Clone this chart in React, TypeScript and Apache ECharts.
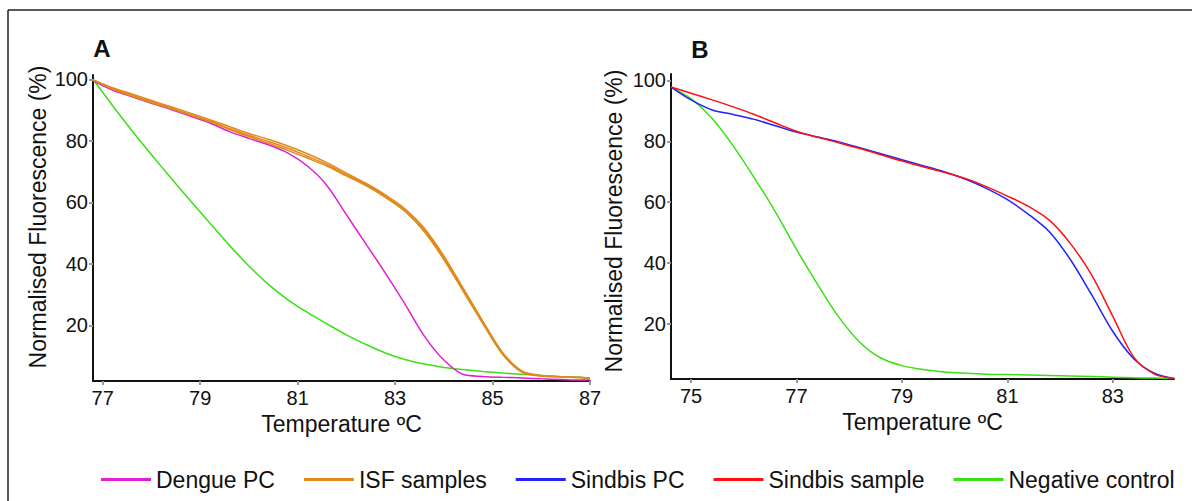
import React, { useEffect, useRef } from "react";
import * as echarts from "echarts";

// Panel A temperatures (°C)
const tempA = [76.8, 77.2, 77.6, 78.0, 78.4, 78.8, 79.2, 79.6, 80.0, 80.4, 80.8, 81.2, 81.6, 82.0, 82.4, 82.8, 83.2, 83.6, 84.0, 84.4, 84.8, 85.2, 85.6, 86.0, 86.4, 86.8, 87.0];
const dengueA = [99.5, 96.5, 94.3, 92.2, 90.2, 88.0, 85.8, 83.0, 80.8, 78.7, 76.0, 71.8, 65.5, 56.0, 46.5, 37.0, 27.0, 16.5, 8.7, 4.0, 3.4, 3.1, 2.9, 2.6, 2.4, 2.2, 2.2];
const isfA1 = [99.8, 97.0, 94.8, 92.7, 90.7, 88.6, 86.5, 84.0, 81.8, 79.8, 77.6, 75.0, 72.3, 69.0, 65.8, 62.0, 57.5, 51.0, 42.0, 31.5, 21.0, 11.0, 5.0, 3.6, 3.3, 3.0, 2.9];
const isfA2 = [99.8, 97.3, 95.2, 93.1, 91.1, 89.0, 86.9, 84.6, 82.4, 80.5, 78.3, 75.8, 72.9, 69.5, 66.2, 62.4, 57.9, 51.6, 42.6, 32.0, 21.4, 11.3, 5.2, 3.7, 3.3, 3.1, 2.9];
const isfA3 = [99.8, 96.8, 94.5, 92.4, 90.4, 88.3, 86.2, 83.7, 81.4, 79.2, 76.9, 74.4, 71.8, 68.6, 65.4, 61.6, 57.1, 50.4, 41.4, 31.0, 20.6, 10.7, 4.8, 3.5, 3.2, 3.0, 2.8];
const negA = [100, 91.5, 83.3, 75.5, 67.9, 60.5, 53.2, 46.0, 39.3, 33.3, 28.3, 24.2, 20.5, 16.9, 13.8, 11.0, 8.9, 7.4, 6.3, 5.6, 5.0, 4.5, 4.1, 3.7, 3.3, 3.0, 2.8];

// Panel B temperatures (°C)
const tempB = [74.62, 75.0, 75.4, 75.8, 76.2, 76.6, 77.0, 77.4, 77.8, 78.2, 78.6, 79.0, 79.4, 79.8, 80.2, 80.6, 81.0, 81.4, 81.8, 82.2, 82.6, 83.0, 83.4, 83.8, 84.16];
const sindbisPcB = [97.8, 93.6, 90.3, 88.8, 87.2, 85.1, 83.0, 81.4, 79.8, 77.9, 75.9, 73.9, 72.0, 70.0, 67.6, 64.5, 60.8, 56.0, 50.2, 41.0, 29.5, 17.5, 8.5, 3.7, 2.1];
const sindbisSampleB = [97.8, 95.8, 93.6, 91.3, 88.8, 86.0, 83.3, 81.3, 79.5, 77.6, 75.6, 73.5, 71.6, 69.8, 67.8, 65.1, 62.0, 58.6, 54.0, 46.3, 36.0, 22.5, 9.0, 3.4, 2.1];
const negB = [97.8, 94.0, 87.5, 78.5, 68.0, 56.8, 44.5, 33.0, 22.3, 14.0, 8.8, 6.3, 5.0, 4.2, 3.8, 3.5, 3.35, 3.2, 3.05, 2.9, 2.7, 2.5, 2.3, 2.2, 2.1];

const ticksA = [77, 79, 81, 83, 85, 87];
const ticksB = [75, 77, 79, 81, 83];
const ticksY = [20, 40, 60, 80, 100];

const legendNames = ["Dengue PC", "ISF samples", "Sindbis PC", "Sindbis sample", "Negative control"];
const COLORS = {
  dengue: "#e01ed6",
  isf: "#e08a1c",
  sindbisPc: "#2222ff",
  sindbisSample: "#ff1010",
  neg: "#3ae014",
};

const pairs = (xs: number[], ys: number[]) => xs.map((x, i) => [x, ys[i]]);

export default function App() {
  const ref = useRef<HTMLDivElement>(null);
  useEffect(() => {
    const chart = echarts.init(ref.current!, null, { renderer: "svg" });
    const font = "'Liberation Sans', Arial, Helvetica, sans-serif";

    const xAxisBase = (gridIndex: number, min: number, max: number, ticks: number[]) => ({
      type: "value",
      gridIndex,
      min,
      max,
      name: "Temperature ºC",
      nameLocation: "middle",
      nameGap: 28,
      nameTextStyle: { fontFamily: font, fontSize: 23, color: "#111" },
      axisLine: { show: true, onZero: false, lineStyle: { color: "#111", width: 2 } },
      axisTick: { show: true, customValues: ticks, length: 4, lineStyle: { color: "#999", width: 2 } },
      axisLabel: { customValues: ticks, fontFamily: font, fontSize: 20, color: "#111", margin: 7 },
      splitLine: { show: false },
    });
    const yAxisBase = (gridIndex: number, min: number, max: number) => ({
      type: "value",
      gridIndex,
      min,
      max,
      axisLine: { show: true, lineStyle: { color: "#111", width: 2 } },
      axisTick: { show: true, customValues: ticksY, length: 4, lineStyle: { color: "#999", width: 2 } },
      axisLabel: { customValues: ticksY, fontFamily: font, fontSize: 20, color: "#111", margin: 5 },
      splitLine: { show: false },
    });

    const line = (name: string, color: string, xi: number, data: number[][], width = 1.5) => ({
      type: "line",
      name,
      xAxisIndex: xi,
      yAxisIndex: xi,
      data,
      smooth: 0.3,
      symbol: "none",
      lineStyle: { color, width },
      itemStyle: { color },
      z: 2,
    });

    chart.setOption({
      animation: false,
      backgroundColor: "#ffffff",
      textStyle: { fontFamily: font },
      grid: [
        { left: 93, right: 602, top: 75, bottom: 120 },
        { left: 671, right: 18, top: 74, bottom: 122 },
      ],
      xAxis: [xAxisBase(0, 76.8, 87, ticksA), xAxisBase(1, 74.62, 84.16, ticksB)],
      yAxis: [yAxisBase(0, 1.9, 101.4), yAxisBase(1, 1.9, 102.1)],
      legend: {
        data: legendNames,
        left: 96,
        top: 463,
        width: 1096,
        icon: "rect",
        itemWidth: 50,
        itemHeight: 3,
        itemGap: 29,
        itemTextGap: 2,
        textStyle: { fontFamily: font, fontSize: 23, color: "#111" },
      },
      series: [
        line("Negative control", COLORS.neg, 0, pairs(tempA, negA)),
        line("Dengue PC", COLORS.dengue, 0, pairs(tempA, dengueA)),
        line("ISF samples", COLORS.isf, 0, pairs(tempA, isfA1)),
        line("ISF samples", COLORS.isf, 0, pairs(tempA, isfA2)),
        line("ISF samples", COLORS.isf, 0, pairs(tempA, isfA3)),
        line("Negative control", COLORS.neg, 1, pairs(tempB, negB)),
        line("Sindbis PC", COLORS.sindbisPc, 1, pairs(tempB, sindbisPcB)),
        line("Sindbis sample", COLORS.sindbisSample, 1, pairs(tempB, sindbisSampleB)),
      ],
      graphic: [
        { type: "line", shape: { x1: 8, y1: 10, x2: 1192, y2: 10 }, style: { stroke: "#222", lineWidth: 1.5 } },
        { type: "line", shape: { x1: 8, y1: 10, x2: 8, y2: 501 }, style: { stroke: "#222", lineWidth: 1.5 } },
        { type: "text", x: 102, y: 48, style: { text: "A", fontFamily: font, fontSize: 24, fontWeight: "bold", fill: "#111", align: "center", verticalAlign: "middle" } },
        { type: "text", x: 700, y: 49, style: { text: "B", fontFamily: font, fontSize: 24, fontWeight: "bold", fill: "#111", align: "center", verticalAlign: "middle" } },
        { type: "text", x: 38, y: 217, rotation: Math.PI / 2, style: { text: "Normalised Fluorescence (%)", fontFamily: font, fontSize: 23, fill: "#111", align: "center", verticalAlign: "middle" } },
        { type: "text", x: 614, y: 221, rotation: Math.PI / 2, style: { text: "Normalised Fluorescence (%)", fontFamily: font, fontSize: 23, fill: "#111", align: "center", verticalAlign: "middle" } },
      ],
    });
    return () => chart.dispose();
  }, []);
  return (
    <div
      ref={ref}
      style={{ position: "absolute", left: 0, top: 0, width: 1192, height: 501, background: "#fff" }}
    />
  );
}
